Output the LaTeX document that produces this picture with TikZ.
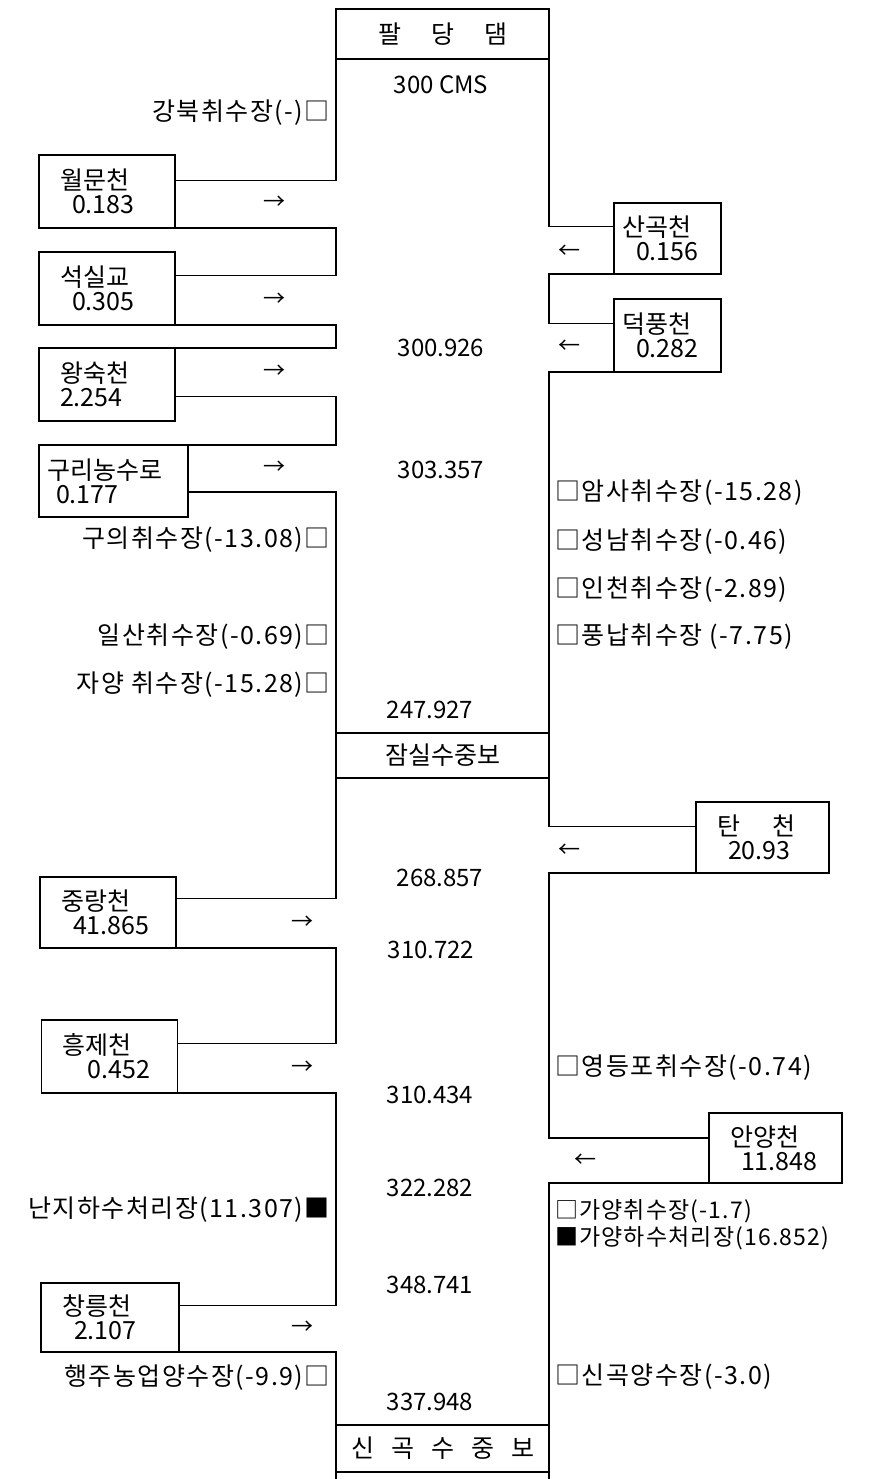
\documentclass[tikz,border=0pt]{standalone}
\usepackage{fontspec}
\setmainfont{Noto Sans CJK KR}
\usetikzlibrary{positioning}

\tikzset{
  bank/.style={line width=1.6pt},
  trib/.style={draw, line width=1.6pt, outer sep=0pt, align=left, inner xsep=21pt, inner ysep=0pt,
    text width=94pt, minimum height=73pt, font=\fontsize{25}{24}\selectfont},
  weir/.style={draw, line width=1.6pt, outer sep=0pt, minimum width=213pt, font=\fontsize{25}{26}\selectfont},
  intake/.style={inner sep=0pt, font=\fontsize{25}{26}\selectfont\addfontfeature{LetterSpace=6}},
  flow/.style={inner sep=0pt, font=\fontsize{24}{26}\selectfont},
  dir/.style={inner sep=0pt, font=\fontsize{22}{24}\selectfont}
}

\begin{document}
\begin{tikzpicture}[x=1pt,y=-1pt]
\useasboundingbox (0,0) rectangle (875,1479);
\coordinate (L) at (336,0);
\coordinate (R) at (549,0);
\coordinate (bot) at (0,1479);

% dams
\node[weir, minimum height=50pt] (paldang) at (442.5,34) {팔\hspace{30pt}당\hspace{30pt}댐};
\node[weir, minimum height=45pt] (jamsil) at (442.5,755.5) {잠실수중보};
\node[weir, minimum height=47pt] (singok) at (442.5,1448.5) {신\hspace{17pt}곡\hspace{17pt}수\hspace{17pt}중\hspace{17pt}보};

% tributaries, left bank
\node[trib] (wolmun) at (107,191.5) {월문천\\\hspace*{12pt}0.183};
\node[trib] (seoksil) at (107,288.5) {석실교\\\hspace*{12pt}0.305};
\node[trib] (wangsuk) at (107,384.5) {왕숙천\\2.254};
\node[trib, inner xsep=8pt, text width=133pt, minimum height=72pt] (guri) at (113.5,481) {구리농수로\\\hspace*{9pt}0.177};
\node[trib, minimum height=71pt] (jungrang) at (108,912.5) {중랑천\\\hspace*{12pt}41.865};
\node[trib] (heungje) at (109.5,1056.5) {흥제천\\\hspace*{25pt}0.452};
\node[trib, text width=96pt, minimum height=69pt] (changneung) at (110,1317.5) {창릉천\\\hspace*{12pt}2.107};

% tributaries, right bank
\node[trib, inner xsep=8pt, text width=91pt, minimum height=71pt] (sangok) at (667.5,238.5) {산곡천\\\hspace*{14pt}0.156};
\node[trib, inner xsep=8pt, text width=91pt] (deokpung) at (667.5,335.5) {덕풍천\\\hspace*{14pt}0.282};
\node[trib, text width=91pt, minimum height=71pt] (tancheon) at (762.5,837.5) {탄\hspace{32pt}천\\\hspace*{11pt}20.93};
\node[trib, text width=91pt, minimum height=70pt] (anyang) at (775.5,1148) {안양천\\\hspace*{11pt}11.848};

% left bank
\draw[bank] (paldang.south west) |- ([yshift=11pt]wolmun.east);
\draw[bank] (wolmun.south west) -- (wolmun.south -| L) |- ([yshift=13pt]seoksil.east);
\draw[bank] (seoksil.south west) -- (seoksil.south -| L) -- (wangsuk.north -| L) -- (wangsuk.north west);
\draw[bank] ([yshift=-12pt]wangsuk.east) -| (guri.north -| L) -- (guri.north west);
\draw[bank] ([yshift=-11pt]guri.east) -| (jamsil.north west);
\draw[bank] (jamsil.south west) |- ([yshift=14pt]jungrang.east);
\draw[bank] (jungrang.south west) -- (jungrang.south -| L) |- ([yshift=13pt]heungje.east);
\draw[bank] (heungje.south west) -- (heungje.south -| L) |- ([yshift=12pt]changneung.east);
\draw[bank] (changneung.south west) -- (changneung.south -| L) -- (singok.north west);
\draw[bank] (singok.south west) -- (singok.south west |- bot);

% right bank
\draw[bank] (paldang.south east) |- ([yshift=12pt]sangok.west);
\draw[bank] (sangok.south west) -- (sangok.south -| R) |- ([yshift=12pt]deokpung.west);
\draw[bank] (deokpung.south west) -- (deokpung.south -| R) -- (jamsil.north east);
\draw[bank] (jamsil.south east) |- ([yshift=11pt]tancheon.west);
\draw[bank] (tancheon.south west) -- (tancheon.south -| R) |- ([yshift=10pt]anyang.west);
\draw[bank] (anyang.south west) -- (anyang.south -| R) -- (singok.north east);
\draw[bank] (singok.south east) -- (singok.south east |- bot);

% flows
\node[flow] (q0) at (441,85) {300 CMS};
\node[flow] (q1) at (441,348) {300.926};
\node[flow] (q2) at (441,470) {303.357};
\node[flow] (q3) at (430,710) {247.927};
\node[flow] (q4) at (440,878) {268.857};
\node[flow] (q5) at (431,950) {310.722};
\node[flow] (q6) at (430,1095) {310.434};
\node[flow] (q7) at (430,1188) {322.282};
\node[flow] (q8) at (430,1285) {348.741};
\node[flow] (q9) at (430,1402) {337.948};

% inflow arrows
\node[dir] (a1) at (274,203) {→};
\node[dir] (a2) at (274,300) {→};
\node[dir] (a3) at (274,372) {→};
\node[dir] (a4) at (274,468) {→};
\node[dir] (a5) at (302,923) {→};
\node[dir] (a6) at (302,1068) {→};
\node[dir] (a7) at (302,1328) {→};
\node[dir] (b1) at (569,252) {←};
\node[dir] (b2) at (569,347) {←};
\node[dir] (b3) at (569,851) {←};
\node[dir] (b4) at (585,1161) {←};

% intakes and plants
\node[intake, anchor=east] (gangbuk) at (330,113) {강북취수장(-)□};
\node[intake, anchor=east] (guui) at (330,540) {구의취수장(-13.08)□};
\node[intake, anchor=east] (ilsan) at (330,637) {일산취수장(-0.69)□};
\node[intake, anchor=east] (jayang) at (330,685) {자양 취수장(-15.28)□};
\node[intake, anchor=east] (nanji) at (330,1210) {난지하수처리장(11.307)■};
\node[intake, anchor=east] (haengju) at (330,1378) {행주농업양수장(-9.9)□};
\node[intake, anchor=west] (amsa) at (555,493) {□암사취수장(-15.28)};
\node[intake, anchor=west] (seongnam) at (555,542) {□성남취수장(-0.46)};
\node[intake, anchor=west] (incheon) at (555,590) {□인천취수장(-2.89)};
\node[intake, anchor=west] (pungnap) at (555,637) {□풍납취수장 (-7.75)};
\node[intake, anchor=west] (yeongdeungpo) at (555,1068) {□영등포취수장(-0.74)};
\node[intake, anchor=west, font=\fontsize{23}{24}\selectfont\addfontfeature{LetterSpace=5}] (gayang) at (555,1211) {□가양취수장(-1.7)};
\node[intake, anchor=west, font=\fontsize{23}{24}\selectfont\addfontfeature{LetterSpace=5}] (gayangplant) at (555,1238) {■가양하수처리장(16.852)};
\node[intake, anchor=west] (singokpump) at (555,1377) {□신곡양수장(-3.0)};
\end{tikzpicture}
\end{document}
